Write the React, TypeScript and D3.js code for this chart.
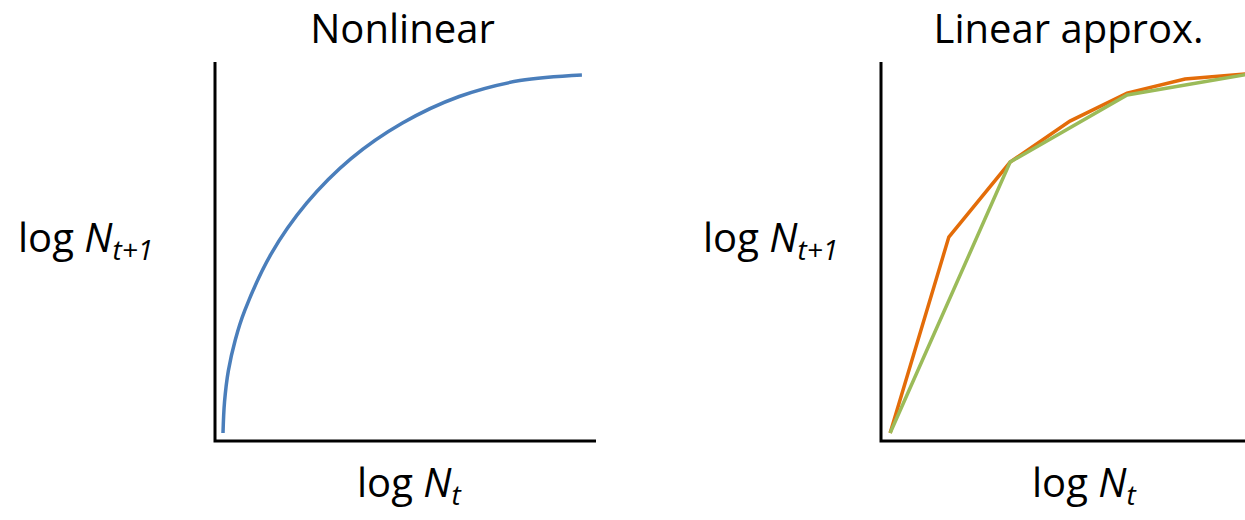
import React, { useEffect, useRef } from 'react';
import * as d3 from 'd3';

// Nonlinear curve (data units 0-100 on both axes)
const curveX = [2.1, 2.5, 3.5, 5.3, 7.8, 14.7, 24.1, 35.7, 49.2, 64.1, 80.0, 96.3];
const curveY = [2.1, 10.3, 18.5, 26.6, 34.4, 49.3, 62.8, 74.5, 83.9, 90.9, 95.1, 96.6];

// Linear approximations
const fineX = [2.4, 17.8, 33.9, 49.6, 64.6, 79.8, 96.5];
const fineY = [2.1, 53.8, 73.6, 84.4, 91.8, 95.5, 96.9];
const coarseX = [2.4, 33.9, 64.6, 96.5];
const coarseY = [2.1, 73.6, 91.3, 96.8];

const titles = ['Nonlinear', 'Linear approx.'];

const App = () => {
  const ref = useRef<SVGSVGElement>(null);

  useEffect(() => {
    const width = 1245;
    const height = 520;
    const svg = d3.select(ref.current).attr('width', width).attr('height', height);
    svg.selectAll('*').remove();

    const font = "'Open Sans', sans-serif";
    const top = 62;
    const bottom = 441;
    const panels = [
      { left: 215, yLabelX: 18, xLabelX: 357 },
      { left: 881, yLabelX: 703, xLabelX: 1032 },
    ];

    const y = d3.scaleLinear().domain([0, 100]).range([bottom, top]);

    panels.forEach((p, i) => {
      const x = d3.scaleLinear().domain([0, 100]).range([p.left, p.left + 381]);
      const g = svg.append('g');

      // axes
      g.append('path')
        .attr('d', `M${x(0)},${y(100)}V${y(0)}H${x(100)}`)
        .attr('fill', 'none')
        .attr('stroke', '#000')
        .attr('stroke-width', 3);

      // title
      g.append('text')
        .attr('x', x(50) - 3)
        .attr('y', 43)
        .attr('text-anchor', 'middle')
        .style('font-family', font)
        .style('font-size', '40px')
        .text(titles[i]);

      // y label
      const yl = g.append('text')
        .attr('x', p.yLabelX)
        .attr('y', 252)
        .style('font-family', font)
        .style('font-size', '40px');
      yl.append('tspan').text('log ');
      yl.append('tspan').style('font-style', 'italic').text('N');
      yl.append('tspan').attr('dy', 8).style('font-style', 'italic').style('font-size', '28px').text('t+1');

      // x label
      const xl = g.append('text')
        .attr('x', p.xLabelX)
        .attr('y', 497)
        .style('font-family', font)
        .style('font-size', '40px');
      xl.append('tspan').text('log ');
      xl.append('tspan').style('font-style', 'italic').text('N');
      xl.append('tspan').attr('dy', 8).style('font-style', 'italic').style('font-size', '28px').text('t');

      if (i === 0) {
        const line = d3.line<number>()
          .x((_, k) => x(curveX[k]))
          .y((d) => y(d))
          .curve(d3.curveCatmullRom.alpha(0.5));
        g.append('path')
          .attr('d', line(curveY))
          .attr('fill', 'none')
          .attr('stroke', '#4a7ebb')
          .attr('stroke-width', 3.5);
      } else {
        const fine = d3.line<number>().x((_, k) => x(fineX[k])).y((d) => y(d));
        const coarse = d3.line<number>().x((_, k) => x(coarseX[k])).y((d) => y(d));
        g.append('path')
          .attr('d', fine(fineY))
          .attr('fill', 'none')
          .attr('stroke', '#e36c09')
          .attr('stroke-width', 3.5);
        g.append('path')
          .attr('d', coarse(coarseY))
          .attr('fill', 'none')
          .attr('stroke', '#9bbb59')
          .attr('stroke-width', 3.5);
      }
    });
  }, []);

  return (
    <div style={{ position: 'absolute', left: 0, top: 0 }}>
      <svg ref={ref} style={{ display: 'block' }}></svg>
    </div>
  );
};

export default App;
